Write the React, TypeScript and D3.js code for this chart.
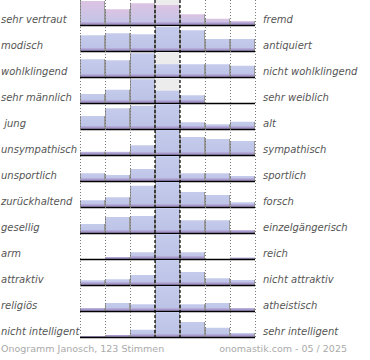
import React from "react";
import * as d3 from "d3";

const leftLabels = [
  "sehr vertraut", "modisch", "wohlklingend", "sehr männlich", " jung",
  "unsympathisch", "unsportlich", "zurückhaltend", "gesellig", "arm",
  "attraktiv", "religiös", "nicht intelligent",
];
const rightLabels = [
  "fremd", "antiquiert", "nicht wohlklingend", "sehr weiblich", "alt",
  "sympathisch", "sportlich", "forsch", "einzelgängerisch", "reich",
  "nicht attraktiv", "atheistisch", "sehr intelligent",
];
const scaleSteps = [1, 2, 3, 4, 5, 6, 7];
// percent of row height per scale step
const ratings = [
  [96, 63, 87, 80, 43, 25, 16],
  [63, 71, 67, 97, 83, 48, 48],
  [71, 67, 95, 51, 51, 51, 45],
  [36, 53, 95, 49, 31, 0, 0],
  [52, 83, 93, 100, 27, 19, 29],
  [13, 13, 39, 100, 72, 64, 56],
  [31, 24, 48, 100, 31, 31, 20],
  [27, 39, 85, 100, 60, 48, 19],
  [36, 64, 68, 100, 51, 51, 11],
  [0, 7, 27, 100, 27, 0, 5],
  [19, 23, 40, 100, 52, 27, 20],
  [12, 32, 27, 100, 27, 32, 12],
  [4, 8, 29, 100, 60, 37, 16],
];
const footerLeft = "Onogramm Janosch, 123 Stimmen";
const footerRight = "onomastik.com - 05 / 2025";

export default function App() {
  const W = 370, H = 360;
  const x = d3.scaleBand<number>().domain(scaleSteps).range([80, 255]).padding(0);
  const rowIdx = d3.range(leftLabels.length);
  const yBase = d3.scaleLinear().domain([0, leftLabels.length - 1]).range([25, 25 + 26 * 12]);
  const h = d3.scaleLinear().domain([0, 100]).range([0, 25]);
  const bw = x.bandwidth();
  const mid = scaleSteps[3];
  const gridX = [80, 105, 130, 205, 230, 255].map((_, i) => i); // placeholder
  const dottedEdges = [0, 1, 2, 5, 6, 7].map((k) => 80 + k * bw);
  const dashedEdges = [3, 4].map((k) => 80 + k * bw);
  const font = "'DejaVu Sans', Verdana, sans-serif";
  return (
    <svg width={W} height={H} style={{ position: "absolute", left: 0, top: 0, background: "#fff" }}>
      <defs>
        <linearGradient id="gFirst" x1="0" y1="0" x2="0" y2="1">
          <stop offset="0" stopColor="#dcc3e3" />
          <stop offset="1" stopColor="#c1c5e7" />
        </linearGradient>
        <linearGradient id="gRow" x1="0" y1="0" x2="0" y2="1">
          <stop offset="0" stopColor="#c5cbeb" />
          <stop offset="1" stopColor="#bcc2e6" />
        </linearGradient>
      </defs>
      {rowIdx.map((r) => {
        const base = yBase(r);
        return (
          <g key={r}>
            <rect x={x(mid)} y={base - 25} width={bw} height={25} fill="#ececec" />
            {ratings[r].map((v, c) => {
              const bh = h(v);
              const bx = x(scaleSteps[c])!;
              if (bh <= 0) return null;
              return (
                <g key={c}>
                  <rect x={bx} y={base - bh} width={bw} height={bh} fill={r === 0 ? "url(#gFirst)" : "url(#gRow)"} />
                  <rect x={bx} y={base - Math.min(2.5, bh)} width={bw} height={Math.min(2.5, bh)} fill="#a898cc" />
                  <line x1={bx + 0.5} x2={bx + 0.5} y1={base - bh} y2={base} stroke="#999" strokeWidth={1} />
                  <line x1={bx + bw - 0.5} x2={bx + bw - 0.5} y1={base - bh} y2={base} stroke="#999" strokeWidth={1} />
                </g>
              );
            })}
            <line x1={80} x2={255} y1={base + 0.5} y2={base + 0.5} stroke="#000" strokeWidth={1.6} />
            <text x={1} y={base - 2} fontFamily={font} fontSize={10} fontStyle="italic" fill="#555" style={{ whiteSpace: "pre" }}>
              {leftLabels[r]}
            </text>
            <text x={263} y={base - 2} fontFamily={font} fontSize={10} fontStyle="italic" fill="#555">
              {rightLabels[r]}
            </text>
          </g>
        );
      })}
      {dottedEdges.map((ex, i) => (
        <line key={"d" + i} x1={ex + 0.5} x2={ex + 0.5} y1={0} y2={338} stroke="#777" strokeWidth={1} strokeDasharray="1,2" />
      ))}
      {dashedEdges.map((ex, i) => (
        <line key={"s" + i} x1={ex} x2={ex} y1={0} y2={338} stroke="#000" strokeWidth={1.2} strokeDasharray="3,2" />
      ))}
      <text x={1} y={352} fontFamily={font} fontSize={9.5} fill="#aaa">{footerLeft}</text>
      <text x={347} y={352} fontFamily={font} fontSize={9.5} fill="#aaa" textAnchor="end">{footerRight}</text>
    </svg>
  );
}
